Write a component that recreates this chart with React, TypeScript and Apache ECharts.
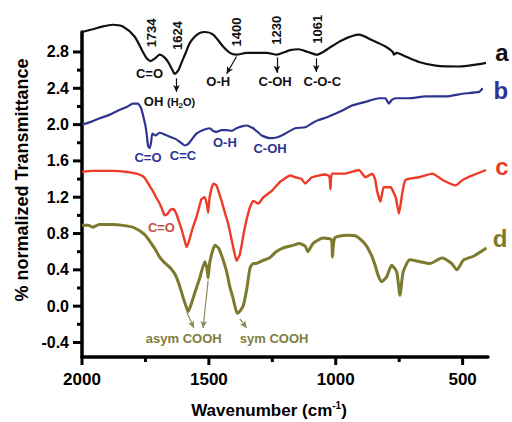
import React, { useEffect, useRef } from "react";
import * as echarts from "echarts";

const xMajorTicks = [2000, 1500, 1000, 500];
const xMinorTicks = [1750, 1250, 750];
const yMajorTicks = [-0.4, 0.0, 0.4, 0.8, 1.2, 1.6, 2.0, 2.4, 2.8];
const yMinorTicks = [-0.2, 0.2, 0.6, 1.0, 1.4, 1.8, 2.2, 2.6];

const curveA: [number, number][] = [
  [2000, 3.02], [1958, 3.05], [1920, 3.08], [1879, 3.10], [1839, 3.08], [1793, 2.97], [1760, 2.80],
  [1745, 2.73], [1730, 2.70], [1712, 2.73], [1694, 2.77], [1675, 2.74], [1661, 2.69], [1645, 2.61],
  [1635, 2.56], [1620, 2.60], [1608, 2.68], [1590, 2.80], [1575, 2.90], [1555, 2.97], [1536, 3.01],
  [1516, 3.02], [1483, 2.99], [1444, 2.86], [1417, 2.79], [1391, 2.77], [1351, 2.79], [1311, 2.79],
  [1272, 2.79], [1232, 2.77], [1200, 2.80], [1180, 2.82], [1147, 2.83], [1110, 2.80], [1074, 2.77],
  [1050, 2.80], [1028, 2.84], [975, 2.93], [909, 2.99], [856, 2.93], [804, 2.86], [775, 2.80],
  [771, 2.77], [760, 2.79], [725, 2.75], [672, 2.69], [606, 2.65], [514, 2.64], [448, 2.66], [408, 2.68],
];

const curveB: [number, number][] = [
  [2000, 2.00], [1965, 2.03], [1930, 2.07], [1890, 2.11], [1853, 2.16], [1820, 2.20], [1800, 2.23],
  [1780, 2.23], [1767, 2.18], [1755, 2.05], [1747, 1.94], [1740, 1.77], [1734, 1.74], [1728, 1.80],
  [1723, 1.90], [1710, 1.88], [1695, 1.91], [1681, 1.90], [1665, 1.88], [1648, 1.86], [1630, 1.84],
  [1615, 1.81], [1595, 1.77], [1580, 1.79], [1569, 1.83], [1549, 1.90], [1523, 1.94], [1496, 1.96],
  [1483, 1.93], [1470, 1.92], [1450, 1.94], [1430, 1.94], [1410, 1.93], [1391, 1.96], [1370, 1.98],
  [1351, 1.99], [1325, 1.96], [1292, 1.88], [1259, 1.85], [1230, 1.86], [1200, 1.90], [1160, 1.96],
  [1120, 1.97], [1090, 2.02], [1068, 2.05], [1035, 2.08], [1002, 2.12], [970, 2.16], [936, 2.21],
  [883, 2.25], [830, 2.29], [804, 2.29], [791, 2.23], [780, 2.27], [764, 2.29], [712, 2.29],
  [645, 2.31], [566, 2.31], [500, 2.34], [435, 2.36], [421, 2.40],
];

const curveC: [number, number][] = [
  [2000, 1.48], [1960, 1.49], [1920, 1.49], [1879, 1.49], [1830, 1.48], [1786, 1.46], [1760, 1.43],
  [1747, 1.39], [1735, 1.33], [1721, 1.27], [1708, 1.20], [1694, 1.13], [1683, 1.06], [1674, 1.00],
  [1662, 1.02], [1652, 1.06], [1641, 1.07], [1630, 1.03], [1620, 0.95], [1608, 0.85], [1597, 0.74],
  [1588, 0.65], [1578, 0.72], [1565, 0.85], [1549, 0.98], [1529, 1.18], [1516, 1.20], [1508, 1.12],
  [1503, 1.03], [1497, 1.20], [1483, 1.35], [1470, 1.33], [1450, 1.16], [1437, 1.03], [1424, 0.91],
  [1404, 0.65], [1391, 0.50], [1378, 0.57], [1358, 0.87], [1338, 1.09], [1325, 1.16], [1305, 1.13],
  [1285, 1.20], [1252, 1.27], [1219, 1.37], [1180, 1.44], [1160, 1.42], [1135, 1.40], [1120, 1.35],
  [1094, 1.42], [1041, 1.45], [1025, 1.43], [1021, 1.29], [1015, 1.46], [962, 1.46], [909, 1.50],
  [883, 1.42], [856, 1.46], [845, 1.40], [837, 1.27], [824, 1.15], [811, 1.31], [784, 1.31],
  [764, 1.20], [751, 1.02], [738, 1.24], [725, 1.39], [672, 1.42], [619, 1.46], [579, 1.39],
  [527, 1.33], [500, 1.39], [461, 1.44], [408, 1.50],
];

const curveD: [number, number][] = [
  [2000, 0.89], [1975, 0.89], [1958, 0.87], [1932, 0.90], [1880, 0.90], [1839, 0.89], [1800, 0.87],
  [1773, 0.83], [1750, 0.78], [1734, 0.72], [1712, 0.63], [1694, 0.54], [1675, 0.48], [1655, 0.43],
  [1640, 0.38], [1628, 0.32], [1615, 0.22], [1602, 0.10], [1590, 0.00], [1582, -0.06], [1570, 0.02],
  [1555, 0.15], [1536, 0.31], [1516, 0.49], [1508, 0.42], [1503, 0.31], [1496, 0.49], [1476, 0.67],
  [1462, 0.64], [1445, 0.52], [1430, 0.38], [1418, 0.22], [1404, 0.08], [1388, -0.08], [1376, -0.05],
  [1364, 0.01], [1350, 0.20], [1338, 0.42], [1325, 0.47], [1314, 0.47], [1290, 0.50], [1262, 0.53],
  [1235, 0.60], [1209, 0.64], [1169, 0.67], [1143, 0.69], [1120, 0.66], [1110, 0.60], [1090, 0.69],
  [1050, 0.75], [1017, 0.73], [1013, 0.54], [1004, 0.75], [958, 0.78], [918, 0.77], [886, 0.69],
  [859, 0.56], [845, 0.45], [833, 0.34], [820, 0.27], [800, 0.32], [780, 0.45], [760, 0.38],
  [747, 0.12], [734, 0.38], [708, 0.51], [668, 0.49], [629, 0.47], [582, 0.53], [543, 0.47],
  [523, 0.40], [496, 0.51], [457, 0.55], [406, 0.64],
];

// annotation anchors (data coordinates)
const peakNumbers: [number, number, string][] = [
  [1727, 3.01, "1734"], [1622, 2.98, "1624"], [1391, 3.02, "1400"], [1235, 3.04, "1230"], [1070, 3.05, "1061"],
];
const bandLabelsA: [number, number, string][] = [
  [1734, 2.56, "C=O"], [1463, 2.47, "O-H"], [1239, 2.47, "C-OH"], [1053, 2.47, "C-O-C"],
];
const waterLabel: [number, number] = [1655, 2.25];
const bandLabelsB: [number, number, string][] = [
  [1740, 1.64, "C=O"], [1602, 1.66, "C=C"], [1437, 1.80, "O-H"], [1259, 1.74, "C-OH"],
];
const bandLabelsC: [number, number, string][] = [[1687, 0.87, "C=O"]];
const bandLabelsD: [number, number, string][] = [
  [1599, -0.36, "asym COOH"], [1243, -0.36, "sym COOH"],
];
const curveNames: [number, number, string][] = [
  [345, 2.79, "a"], [349, 2.38, "b"], [345, 1.54, "c"], [352, 0.75, "d"],
];
const arrowsA: [number, number][][] = [
  [[1628, 2.51], [1628, 2.36]],
  [[1391, 2.75], [1430, 2.56]],
  [[1232, 2.74], [1232, 2.57]],
  [[1077, 2.73], [1077, 2.58]],
];
const arrowsD: [number, number][][] = [
  [[1587, -0.07], [1559, -0.24]],
  [[1503, 0.28], [1523, -0.24]],
  [[1378, -0.14], [1351, -0.24]],
];

const FONT = '"Liberation Sans", Arial, Helvetica, sans-serif';
const COLORS = { a: "#111111", b: "#2d3590", c: "#ee3a26", d: "#7c7a2e" };
const LABEL_COLORS = { a: "#111111", b: "#2d3590", c: "#c85244", d: "#7f7d3c" };

const X_MIN = 400;
const X_MAX = 2000;
const Y_MIN = -0.56;
const Y_MAX = 3.02;

export default function App() {
  const ref = useRef<HTMLDivElement>(null);
  useEffect(() => {
    if (!ref.current) return;
    const chart = echarts.init(ref.current, undefined, { renderer: "svg" });
    const mkArrows = (arr: [number, number][][], color: string) => ({
      silent: true,
      symbol: ["none", "arrow"],
      symbolSize: [5, 7],
      label: { show: false },
      lineStyle: { color, width: 1.2, type: "solid" },
      data: arr.map((p) => [{ coord: p[0] }, { coord: p[1] }]),
    });
    chart.setOption({
      animation: false,
      backgroundColor: "#ffffff",
      grid: { left: 82, right: 24, top: 32, bottom: 65, containLabel: false },
      xAxis: {
        type: "value",
        min: X_MIN,
        max: X_MAX,
        inverse: true,
        position: "bottom",
        splitLine: { show: false },
        axisLine: { show: true, onZero: false, lineStyle: { color: "#000", width: 3.5 } },
        axisTick: { show: false },
        axisLabel: {
          show: true,
          customValues: xMajorTicks,
          margin: 14,
          color: "#000",
          fontSize: 17,
          fontWeight: "bold",
          fontFamily: FONT,
          formatter: (v: number) => String(v),
        },
      },
      yAxis: {
        type: "value",
        min: Y_MIN,
        max: Y_MAX,
        position: "left",
        splitLine: { show: false },
        axisLine: { show: true, onZero: false, lineStyle: { color: "#000", width: 3.5 } },
        axisTick: { show: false },
        axisLabel: {
          show: true,
          customValues: yMajorTicks,
          margin: 13,
          color: "#000",
          fontSize: 16,
          fontWeight: "bold",
          fontFamily: FONT,
          formatter: (v: number) => v.toFixed(1),
        },
      },
      series: [
        {
          type: "line", data: curveA, showSymbol: false, smooth: 0.25, clip: false,
          lineStyle: { color: COLORS.a, width: 2.2 }, markLine: mkArrows(arrowsA, COLORS.a),
        },
        { type: "line", data: curveB, showSymbol: false, smooth: 0.15, lineStyle: { color: COLORS.b, width: 2.2 } },
        { type: "line", data: curveC, showSymbol: false, smooth: 0.15, lineStyle: { color: COLORS.c, width: 2.4 } },
        {
          type: "line", data: curveD, showSymbol: false, smooth: 0.2,
          lineStyle: { color: COLORS.d, width: 3 }, markLine: mkArrows(arrowsD, "#8c8a55"),
        },
      ],
    });

    const px = (w: number, v: number) =>
      chart.convertToPixel({ xAxisIndex: 0, yAxisIndex: 0 }, [w, v]) as number[];
    const txt = (w: number, v: number, text: string, fill: string, size: number, rotation = 0) => {
      const [x, y] = px(w, v);
      return {
        type: "text",
        x,
        y,
        rotation,
        silent: true,
        style: { text, fill, fontSize: size, fontWeight: "bold", fontFamily: FONT, align: "center", verticalAlign: "middle" },
      };
    };
    const graphics: any[] = [];
    // axis ticks (outward), derived from tick arrays through the axes' scales
    const [axisX] = px(X_MAX, 0);
    const [, axisY] = px(X_MAX, Y_MIN);
    const tickLine = (x1: number, y1: number, x2: number, y2: number) => ({
      type: "line",
      silent: true,
      shape: { x1, y1, x2, y2 },
      style: { stroke: "#000", lineWidth: 3 },
    });
    yMajorTicks.forEach((v) => { const [, y] = px(X_MAX, v); graphics.push(tickLine(axisX - 9, y, axisX, y)); });
    yMinorTicks.forEach((v) => { const [, y] = px(X_MAX, v); graphics.push(tickLine(axisX - 5, y, axisX, y)); });
    xMajorTicks.forEach((w) => { const [x] = px(w, 0); graphics.push(tickLine(x, axisY, x, axisY + 8)); });
    xMinorTicks.forEach((w) => { const [x] = px(w, 0); graphics.push(tickLine(x, axisY, x, axisY + 5)); });

    peakNumbers.forEach(([w, v, t]) => graphics.push(txt(w, v, t, LABEL_COLORS.a, 13, Math.PI / 2)));
    bandLabelsA.forEach(([w, v, t]) => graphics.push(txt(w, v, t, LABEL_COLORS.a, 13)));
    bandLabelsB.forEach(([w, v, t]) => graphics.push(txt(w, v, t, LABEL_COLORS.b, 13)));
    bandLabelsC.forEach(([w, v, t]) => graphics.push(txt(w, v, t, LABEL_COLORS.c, 13)));
    bandLabelsD.forEach(([w, v, t]) => graphics.push(txt(w, v, t, LABEL_COLORS.d, 13)));
    const nameColors = [COLORS.a, COLORS.b, COLORS.c, COLORS.d];
    curveNames.forEach(([w, v, t], i) => graphics.push(txt(w, v, t, nameColors[i], 24)));
    const [wx, wy] = px(waterLabel[0], waterLabel[1]);
    graphics.push({
      type: "text",
      x: wx,
      y: wy,
      silent: true,
      style: {
        text: "OH {s|(H}{sub|2}{s|O)}",
        fill: "#111",
        fontSize: 13,
        fontWeight: "bold",
        fontFamily: FONT,
        align: "center",
        verticalAlign: "middle",
        lineHeight: 16,
        rich: {
          s: { fontSize: 11, fontWeight: "bold", fontFamily: FONT, fill: "#111" },
          sub: { fontSize: 8, fontWeight: "bold", fontFamily: FONT, fill: "#111", verticalAlign: "bottom" },
        },
      },
    });
    graphics.push({
      type: "text",
      x: 22,
      y: 180,
      rotation: Math.PI / 2,
      silent: true,
      style: {
        text: "% normalized Transmittance",
        fill: "#000",
        fontSize: 18,
        fontWeight: "bold",
        fontFamily: FONT,
        align: "center",
        verticalAlign: "middle",
      },
    });
    graphics.push({
      type: "text",
      x: 269,
      y: 410,
      silent: true,
      style: {
        text: "Wavenumber (cm{sup|-1})",
        fill: "#000",
        fontSize: 17,
        fontWeight: "bold",
        fontFamily: FONT,
        align: "center",
        verticalAlign: "middle",
        lineHeight: 20,
        rich: {
          sup: { fontSize: 10, fontWeight: "bold", fontFamily: FONT, fill: "#000", verticalAlign: "top" },
        },
      },
    });
    chart.setOption({ graphic: graphics });
    return () => chart.dispose();
  }, []);
  return <div ref={ref} style={{ width: 512, height: 422, position: "absolute", left: 0, top: 0 }} />;
}
